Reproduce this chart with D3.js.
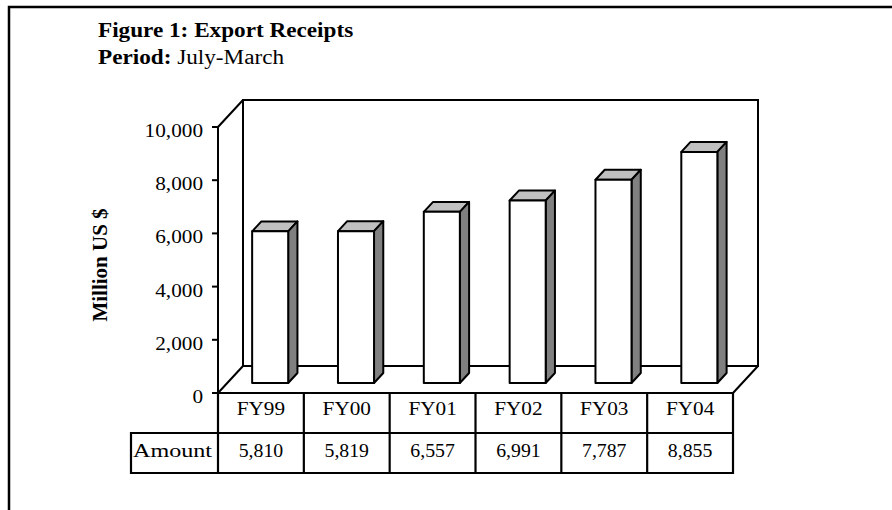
<!DOCTYPE html>
<html>
<head>
<meta charset="utf-8">
<script src="https://cdn.jsdelivr.net/npm/d3@7"></script>
<style>
  body { margin: 0; background: #fff; }
  svg { display: block; }
</style>
</head>
<body>
<svg id="chart" width="892" height="510"></svg>
<script>

// data
const years = ["FY99", "FY00", "FY01", "FY02", "FY03", "FY04"];
const amounts = [5810, 5819, 6557, 6991, 7787, 8855];
const yTicks = [0, 2000, 4000, 6000, 8000, 10000];

const vars = {
    font: "'Liberation Serif', 'Times New Roman', serif",
    stretch: 1.18,
    left: 218, right: 733,
    bottom: 393, top: 127,
    depthX: 25, depthY: -27,
    barFront: 0.37, barBack: 0.74,
    rowH: 40, labelLeft: 131,
    line: 2
};

const x = d3.scaleBand().domain(years).range([vars.left, vars.right]);
const y = d3.scaleLinear().domain([0, 10000]).range([vars.bottom, vars.top]);
// bars sit a bit deeper in the box, so their scale is slightly shorter
const yBar = d3.scaleLinear().domain([0, 10000]).range([0, 261]);

const svg = d3.select("#chart");

class Draw {

    static text (g, tx, ty, str, opts = {}) {
        return g.append("text")
            .attr("transform", `translate(${tx}, ${ty}) scale(${opts.stretch || vars.stretch}, 1)`)
            .attr("text-anchor", opts.anchor || "start")
            .attr("dy", opts.dy || 0)
            .style("font-family", vars.font)
            .style("font-size", (opts.size || 18) + "px")
            .style("font-weight", opts.bold ? "bold" : "normal")
            .style("fill", "#000")
            .text(str);
    }

    //
    // FRAME + TITLES
    //

    static drawFrame () {
        svg.append("path")
            .attr("d", "M9,510 L9,7 L892,7")
            .attr("fill", "none")
            .attr("stroke", "#000")
            .attr("stroke-width", 2.5);

        Draw.text(svg, 98, 37, "Figure 1: Export Receipts", { size: 20, bold: true, stretch: 1.16 });

        let p = svg.append("text")
            .attr("transform", `translate(98, 64) scale(1.16, 1)`)
            .style("font-family", vars.font)
            .style("font-size", "20px");
        p.append("tspan").style("font-weight", "bold").text("Period:");
        p.append("tspan").text(" July-March");
    }

    //
    // 3D BOX
    //

    static drawBox () {
        const dx = vars.depthX, dy = vars.depthY;
        const L = vars.left, R = vars.right, B = vars.bottom, T = vars.top;

        let box = svg.append("g").attr("id", "box")
            .attr("fill", "none")
            .attr("stroke", "#000")
            .attr("stroke-width", vars.line);

        // back wall
        box.append("rect")
            .attr("x", L + dx).attr("y", T + dy)
            .attr("width", R - L).attr("height", B - T);
        // side wall
        box.append("path").attr("d", `M${L},${B} L${L},${T} L${L + dx},${T + dy}`);
        // floor
        box.append("path").attr("d", `M${L},${B} L${L + dx},${B + dy} M${R},${B} L${R + dx},${B + dy}`);

        // y ticks + labels
        let ax = svg.append("g").attr("id", "yaxis");
        ax.selectAll("line")
            .data(yTicks)
            .enter().append("line")
                .attr("x1", L - 6).attr("x2", L)
                .attr("y1", d => y(d)).attr("y2", d => y(d))
                .attr("stroke", "#000").attr("stroke-width", vars.line);

        yTicks.forEach(t => {
            Draw.text(ax, L - 15, y(t), d3.format(",")(t), { anchor: "end", dy: "0.56em" });
        });

        svg.append("text")
            .attr("transform", `translate(107, ${(vars.top + vars.bottom) / 2 + 5}) rotate(-90)`)
            .attr("text-anchor", "middle")
            .style("font-family", vars.font)
            .style("font-size", "21px")
            .style("font-weight", "bold")
            .text("Million US $");
    }

    //
    // BARS
    //

    static drawBars () {
        const fx = vars.depthX * vars.barFront, fy = vars.depthY * vars.barFront;
        const ddx = vars.depthX * (vars.barBack - vars.barFront);
        const ddy = vars.depthY * (vars.barBack - vars.barFront);
        const w = x.bandwidth() * 0.42;
        const base = vars.bottom + fy;

        const data = years.map((k, i) => ({ year: k, value: amounts[i] }));

        let bars = svg.append("g").attr("id", "bars")
            .selectAll("g")
            .data(data, d => d.year)
            .enter().append("g")
                .attr("transform", d => `translate(${x(d.year) + (x.bandwidth() - w) / 2 + fx}, ${base})`);

        const style = sel => sel
            .attr("stroke", "#000")
            .attr("stroke-width", vars.line)
            .attr("stroke-linejoin", "round");

        bars.append("path")
            .attr("d", d => { let h = yBar(d.value);
                return `M0,${-h} L${ddx},${-h + ddy} L${w + ddx},${-h + ddy} L${w},${-h} Z`; })
            .attr("fill", "#c0c0c0")
            .call(style);

        bars.append("path")
            .attr("d", d => { let h = yBar(d.value);
                return `M${w},0 L${w},${-h} L${w + ddx},${-h + ddy} L${w + ddx},${ddy} Z`; })
            .attr("fill", "#808080")
            .call(style);

        bars.append("rect")
            .attr("x", 0).attr("y", d => -yBar(d.value))
            .attr("width", w).attr("height", d => yBar(d.value))
            .attr("fill", "#fff")
            .call(style);
    }

    //
    // DATA TABLE
    //

    static drawTable () {
        const L = vars.left, R = vars.right, B = vars.bottom, h = vars.rowH;

        let tb = svg.append("g").attr("id", "table");

        tb.append("path")
            .attr("d", `M${L - 6},${B} L${R},${B} L${R},${B + 2 * h} L${vars.labelLeft},${B + 2 * h} ` +
                       `L${vars.labelLeft},${B + h} L${R},${B + h} M${L},${B} L${L},${B + 2 * h}`)
            .attr("fill", "none")
            .attr("stroke", "#000")
            .attr("stroke-width", vars.line + 0.2);

        tb.selectAll("line.col")
            .data(years.slice(1))
            .enter().append("line")
                .attr("class", "col")
                .attr("x1", d => x(d)).attr("x2", d => x(d))
                .attr("y1", B).attr("y2", B + 2 * h)
                .attr("stroke", "#000").attr("stroke-width", vars.line + 0.2);

        years.forEach((k, i) => {
            let cx = x(k) + x.bandwidth() / 2;
            Draw.text(tb, cx, B + 22, k, { anchor: "middle" });
            Draw.text(tb, cx, B + h + 24, d3.format(",")(amounts[i]), { anchor: "middle", stretch: 1.1 });
        });

        Draw.text(tb, vars.labelLeft + 2, B + h + 24, "Amount", { size: 19, stretch: 1.27 });
    }
}

Draw.drawFrame();
Draw.drawBox();
Draw.drawBars();
Draw.drawTable();

</script>
</body>
</html>
